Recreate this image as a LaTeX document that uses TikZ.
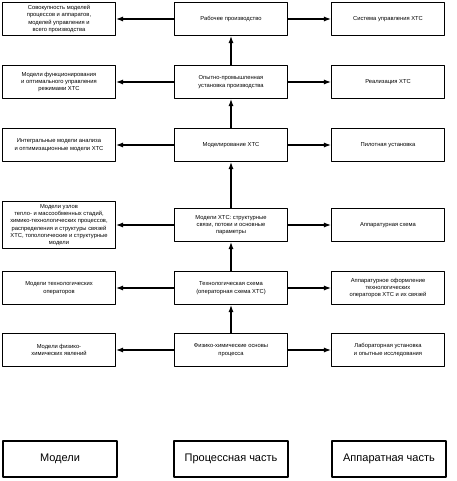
\documentclass[tikz,border=0pt]{standalone}
\usepackage{fontspec}
\setmainfont{Liberation Sans}
\usetikzlibrary{arrows.meta}
\begin{document}
\begin{tikzpicture}[x=1pt,y=-1pt,line width=1.1pt,line join=round,>={Latex[length=7pt,width=5pt]}]
\tikzset{box/.style={draw,minimum width=113pt,minimum height=33pt,align=center,inner sep=2pt,font=\fontsize{5.8}{7.3}\selectfont},
  capbox/.style={draw,minimum width=114pt,minimum height=36pt,font=\fontsize{11}{13}\selectfont}}
\useasboundingbox (0,0) rectangle (456,481);
% processes
\node[box] (m1) at (231,19) {Рабочее производство};
\node[box] (m2) at (231,82) {Опытно-промышленная\\установка производства};
\node[box] (m3) at (231,145) {Моделирование ХТС};
\node[box] (m4) at (231,225) {Модели ХТС: структурные\\связи, потоки и основные\\параметры};
\node[box] (m5) at (231,288) {Технологическая схема\\(операторная схема ХТС)};
\node[box] (m6) at (231,350) {Физико-химические основы\\процесса};
% models
\node[box] (l1) at (59,19) {Совокупность моделей\\процессов и аппаратов,\\моделей управления и\\всего производства};
\node[box] (l2) at (59,82) {Модели функционирования\\и оптимального управления\\режимами ХТС};
\node[box] (l3) at (59,145) {Интегральные модели анализа\\и оптимизационные модели ХТС};
\node[box,minimum height=47pt] (l4) at (59,225) {Модели узлов\\тепло- и массообменных стадий,\\химико-технологических процессов,\\распределения и структуры связей\\ХТС, топологические и структурные\\модели};
\node[box] (l5) at (59,288) {Модели технологических\\операторов};
\node[box] (l6) at (59,350) {Модели физико-\\химических явлений};
% apparatus
\node[box] (r1) at (388,19) {Система управления ХТС};
\node[box] (r2) at (388,82) {Реализация ХТС};
\node[box] (r3) at (388,145) {Пилотная установка};
\node[box] (r4) at (388,225) {Аппаратурная схема};
\node[box] (r5) at (388,288) {Аппаратурное оформление\\технологических\\операторов ХТС и их связей};
\node[box] (r6) at (388,350) {Лабораторная установка\\и опытные исследования};
% captions
\node[capbox] (mods) at (60,459) {Модели};
\node[capbox] (proc) at (231,459) {Процессная часть};
\node[capbox] (appr) at (389,459) {Аппаратная часть};
\foreach \i in {1,...,6} {\draw[->] (m\i) -- (l\i); \draw[->] (m\i) -- (r\i);}
\foreach \i/\j in {2/1,3/2,4/3,5/4,6/5} \draw[->] (m\i) -- (m\j);
\end{tikzpicture}
\end{document}
